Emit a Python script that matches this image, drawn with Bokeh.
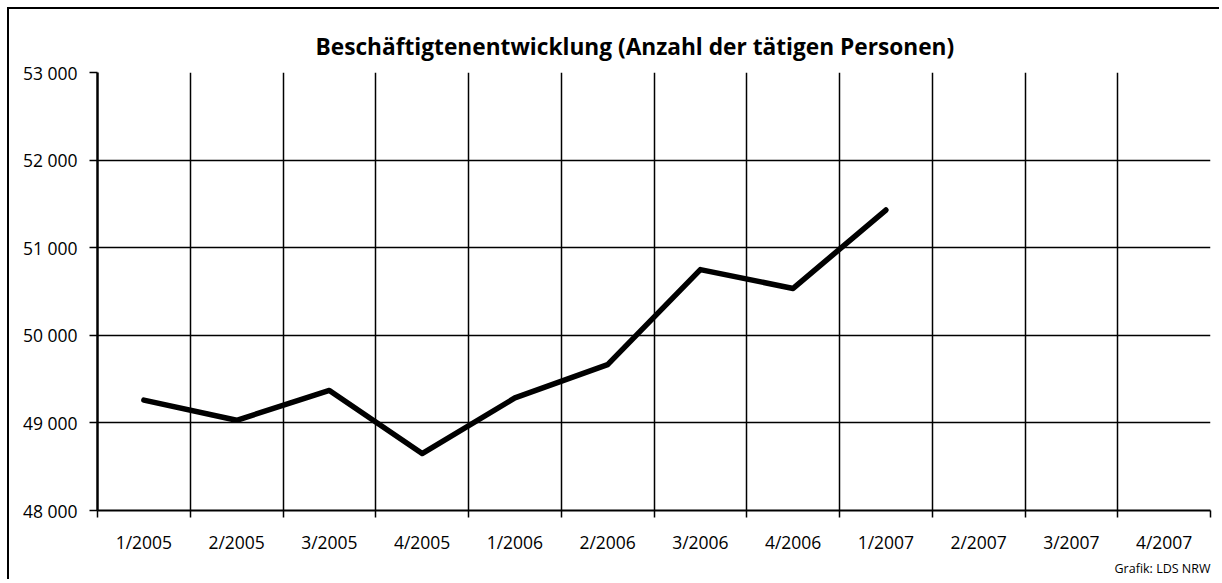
from bokeh.plotting import figure
from bokeh.models import FixedTicker, Range1d, Title
from bokeh.embed import file_html
from bokeh.resources import INLINE

quarters = ["1/2005", "2/2005", "3/2005", "4/2005", "1/2006", "2/2006",
            "3/2006", "4/2006", "1/2007", "2/2007", "3/2007", "4/2007"]
employees = [49260, 49030, 49370, 48650, 49285, 49665, 50750, 50535, 51430]
y_ticks = [48000, 49000, 50000, 51000, 52000, 53000]
y_tick_labels = ["48 000", "49 000", "50 000", "51 000", "52 000", "53 000"]
title_text = "Beschäftigtenentwicklung (Anzahl der tätigen Personen)"
source_text = "Grafik: LDS NRW"

FONT = "Open Sans"

xs = [i + 0.5 for i in range(len(employees))]
n = len(quarters)

p = figure(width=1212, height=572, output_backend="svg", toolbar_location=None,
           x_range=Range1d(0, n), y_range=Range1d(48000, 53000),
           min_border_left=88, min_border_top=63, min_border_bottom=71,
           min_border_right=11)
p.styles = {"border-left": "2px solid black", "border-top": "2px solid black",
            "margin-left": "7px", "margin-top": "7px"}
p.outline_line_color = None
p.background_fill_color = "white"
p.border_fill_color = "white"

# grid
p.xgrid.ticker = FixedTicker(ticks=list(range(n + 1)))
p.xgrid.grid_line_color = "black"
p.xgrid.grid_line_width = 1.5
p.ygrid.ticker = FixedTicker(ticks=y_ticks)
p.ygrid.grid_line_color = "black"
p.ygrid.grid_line_width = 1.5

# x axis
xa = p.xaxis[0]
xa.ticker = FixedTicker(ticks=[i + 0.5 for i in range(n)],
                        minor_ticks=list(range(n + 1)))
xa.major_label_overrides = {i + 0.5: q for i, q in enumerate(quarters)}
xa.major_tick_out = 0
xa.major_tick_in = 0
xa.minor_tick_out = 7
xa.minor_tick_in = 0
xa.minor_tick_line_color = "black"
xa.minor_tick_line_width = 1.5
xa.axis_line_color = "black"
xa.axis_line_width = 2
xa.major_label_text_font = FONT
xa.major_label_text_font_size = "17.5px"
xa.major_label_text_color = "black"
xa.major_label_standoff = 12

# y axis
ya = p.yaxis[0]
ya.ticker = FixedTicker(ticks=y_ticks)
ya.major_label_overrides = {t: l for t, l in zip(y_ticks, y_tick_labels)}
ya.major_tick_out = 8
ya.major_tick_in = 0
ya.major_tick_line_color = "black"
ya.major_tick_line_width = 1.5
ya.minor_tick_line_color = None
ya.axis_line_color = "black"
ya.axis_line_width = 2.5
ya.major_label_text_font = FONT
ya.major_label_text_font_size = "17.5px"
ya.major_label_text_color = "black"
ya.major_label_standoff = 12

p.line(xs, employees, line_color="black", line_width=5.5,
       line_join="round", line_cap="round")

p.add_layout(Title(text=title_text, align="left", offset=218,
                   text_font=FONT, text_font_style="bold",
                   text_font_size="22.7px", text_color="black", standoff=21),
             "above")
p.add_layout(Title(text=source_text, align="right", text_font=FONT,
                   text_font_style="normal", text_font_size="12.5px",
                   text_color="black", standoff=2), "below")

open("out.html", "w").write(file_html(p, INLINE))
